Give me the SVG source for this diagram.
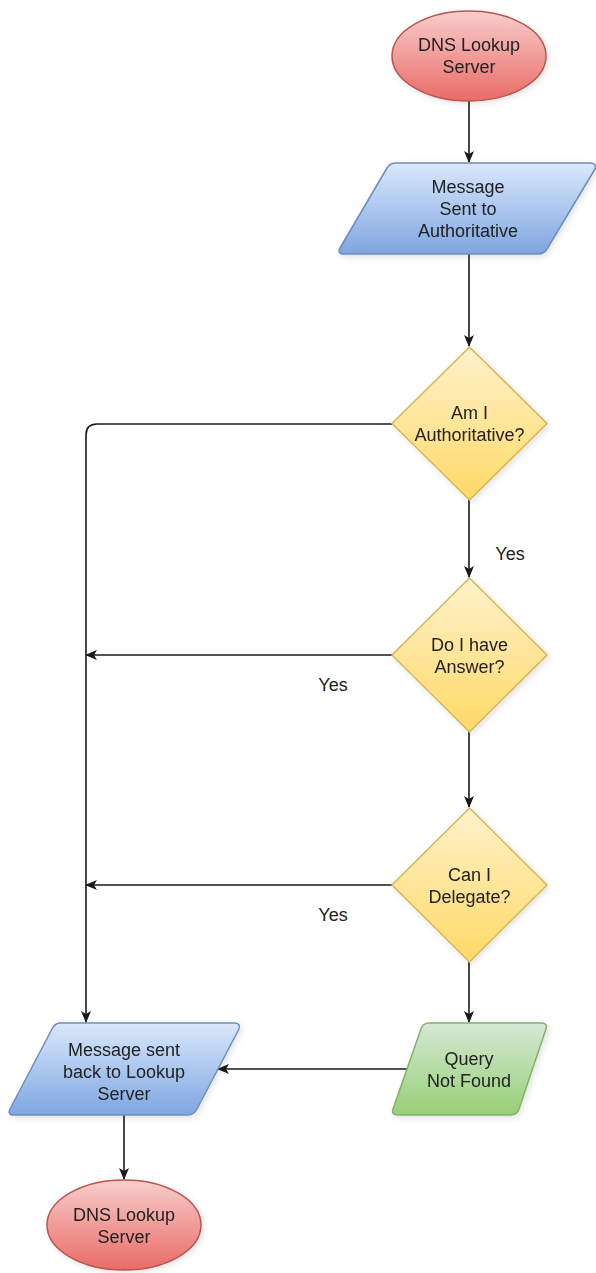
<svg xmlns="http://www.w3.org/2000/svg" width="596" height="1273" viewBox="0 0 596 1273">
  <style>
    .lbl { font-family: "Liberation Sans", Arial, Helvetica, sans-serif; font-size: 18px; fill: #222; text-anchor: middle; }
    .edge { fill: none; stroke: #1a1a1a; stroke-width: 1.6; }
    .term { fill: url(#gRed); stroke: #b85450; stroke-width: 1.5; }
    .io { fill: url(#gBlue); stroke: #6c8ebf; stroke-width: 1.5; stroke-linejoin: round; }
    .dec { fill: url(#gYellow); stroke: #d6b656; stroke-width: 1.5; }
    .miss { fill: url(#gGreen); stroke: #82b366; stroke-width: 1.5; stroke-linejoin: round; }
    .shape { filter: url(#soft); }
  </style>
  <defs>
    <linearGradient id="gRed" x1="0" y1="0" x2="0" y2="1">
      <stop offset="0" stop-color="#f8cecc"/>
      <stop offset="1" stop-color="#ea6b66"/>
    </linearGradient>
    <linearGradient id="gBlue" x1="0" y1="0" x2="0" y2="1">
      <stop offset="0" stop-color="#dae8fc"/>
      <stop offset="1" stop-color="#7ea6e0"/>
    </linearGradient>
    <linearGradient id="gYellow" x1="0" y1="0" x2="0" y2="1">
      <stop offset="0" stop-color="#fff2cc"/>
      <stop offset="1" stop-color="#ffd966"/>
    </linearGradient>
    <linearGradient id="gGreen" x1="0" y1="0" x2="0" y2="1">
      <stop offset="0" stop-color="#d5e8d4"/>
      <stop offset="1" stop-color="#97d077"/>
    </linearGradient>
    <filter id="soft" x="-20%" y="-20%" width="140%" height="140%">
      <feGaussianBlur in="SourceAlpha" stdDeviation="3"/>
      <feOffset dx="2" dy="2" result="b"/>
      <feComponentTransfer><feFuncA type="linear" slope="0.12"/></feComponentTransfer>
      <feMerge><feMergeNode/><feMergeNode in="SourceGraphic"/></feMerge>
    </filter>
    <marker id="arrow" viewBox="0 0 12 10" refX="11" refY="5" markerWidth="12" markerHeight="10" markerUnits="userSpaceOnUse" orient="auto">
      <path d="M0,0 L12,5 L0,10 L3,5 Z" fill="#1a1a1a"/>
    </marker>
  </defs>

  <!-- connectors -->
  <g id="connectors">
    <path class="edge" d="M469,101 V162" marker-end="url(#arrow)"/>
    <path class="edge" d="M469,254 V346" marker-end="url(#arrow)"/>
    <path class="edge" d="M392,424 H97 Q86,424 86,435 V1022" marker-end="url(#arrow)"/>
    <path class="edge" d="M469,500 V577" marker-end="url(#arrow)"/>
    <path class="edge" d="M392,655 H86" marker-end="url(#arrow)"/>
    <path class="edge" d="M469,732 V807" marker-end="url(#arrow)"/>
    <path class="edge" d="M392,885 H86" marker-end="url(#arrow)"/>
    <path class="edge" d="M469,962 V1022" marker-end="url(#arrow)"/>
    <path class="edge" d="M407,1069 H218" marker-end="url(#arrow)"/>
    <path class="edge" d="M124,1115 V1179" marker-end="url(#arrow)"/>
    <text class="lbl" x="510" y="560">Yes</text>
    <text class="lbl" x="333" y="691">Yes</text>
    <text class="lbl" x="333" y="921">Yes</text>
  </g>

  <g id="start" class="shape">
    <ellipse class="term" cx="469" cy="56" rx="77" ry="45"/>
    <text class="lbl" x="469" y="51">DNS Lookup</text>
    <text class="lbl" x="469" y="73">Server</text>
  </g>

  <g id="sendAuth" class="shape">
    <path class="io" d="M396,163 H590 Q597,163 595,169 L547,249 Q544,254 538,254 H344 Q337,254 340,248 L387,168 Q390,163 396,163 Z"/>
    <text class="lbl" x="468" y="193">Message</text>
    <text class="lbl" x="468" y="215">Sent to</text>
    <text class="lbl" x="468" y="237">Authoritative</text>
  </g>

  <g id="isAuth" class="shape">
    <polygon class="dec" points="469.5,347 547,423.5 469.5,500 392,423.5"/>
    <text class="lbl" x="469.5" y="419">Am I</text>
    <text class="lbl" x="469.5" y="441">Authoritative?</text>
  </g>

  <g id="hasAnswer" class="shape">
    <polygon class="dec" points="469.5,578 547,655 469.5,732 392,655"/>
    <text class="lbl" x="469.5" y="651">Do I have</text>
    <text class="lbl" x="469.5" y="673">Answer?</text>
  </g>

  <g id="canDelegate" class="shape">
    <polygon class="dec" points="469.5,808 547,885 469.5,962 392,885"/>
    <text class="lbl" x="469.5" y="881">Can I</text>
    <text class="lbl" x="469.5" y="903">Delegate?</text>
  </g>

  <g id="notFound" class="shape">
    <path class="miss" d="M429,1023 H541 Q548,1023 546,1029 L519,1109 Q517,1115 511,1115 H398 Q391,1115 393,1109 L421,1029 Q423,1023 429,1023 Z"/>
    <text class="lbl" x="469" y="1065">Query</text>
    <text class="lbl" x="469" y="1087">Not Found</text>
  </g>

  <g id="sendBack" class="shape">
    <path class="io" d="M60,1023 H234 Q241,1023 239,1029 L197,1109 Q194,1115 188,1115 H14 Q7,1115 10,1109 L52,1029 Q55,1023 60,1023 Z"/>
    <text class="lbl" x="124" y="1056">Message sent</text>
    <text class="lbl" x="124" y="1078">back to Lookup</text>
    <text class="lbl" x="124" y="1100">Server</text>
  </g>

  <g id="end" class="shape">
    <ellipse class="term" cx="124" cy="1225" rx="77" ry="45"/>
    <text class="lbl" x="124" y="1221">DNS Lookup</text>
    <text class="lbl" x="124" y="1243">Server</text>
  </g>
</svg>
